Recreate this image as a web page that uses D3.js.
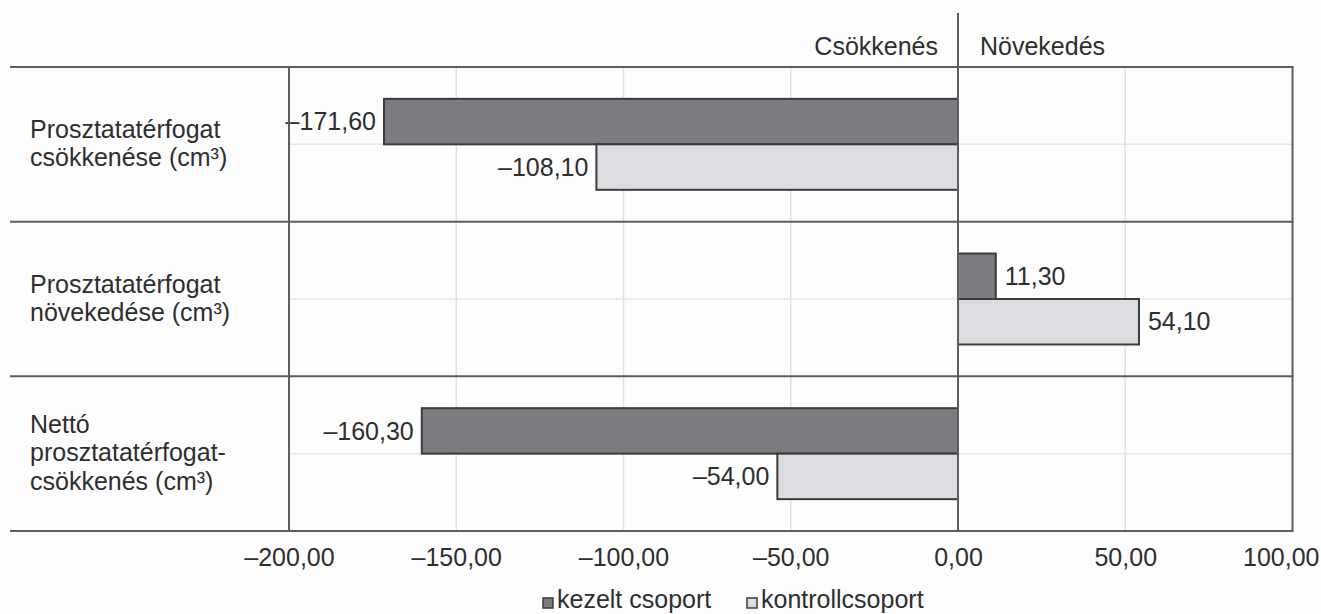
<!DOCTYPE html>
<html>
<head>
<meta charset="utf-8">
<script src="https://cdn.jsdelivr.net/npm/d3@7/dist/d3.min.js"></script>
<style>
  html, body { margin: 0; padding: 0; background: #fdfdfd; }
  svg { display: block; font-family: "Liberation Sans", Arial, sans-serif; }
</style>
</head>
<body>
<svg id="chart" width="1321" height="614"></svg>
<script>
// Prostate volume change, treated vs control group
const categories = ["csokk", "nov", "netto"];
const categoryLines = [
  ["Prosztatatérfogat", "csökkenése (cm³)"],
  ["Prosztatatérfogat", "növekedése (cm³)"],
  ["Nettó", "prosztatatérfogat-", "csökkenés (cm³)"]
];
const seriesNames = ["kezelt csoport", "kontrollcsoport"];
const kezelt = [-171.6, 11.3, -160.3];
const kontroll = [-108.1, 54.1, -54.0];
const tickValues = [-200, -150, -100, -50, 0, 50, 100];
const headerLeft = "Csökkenés";
const headerRight = "Növekedés";

const fills = ["#7b7c7f", "#dcdde0"];
const fontSize = 25;
const textColor = "#2e2e2e";

const svg = d3.select("#chart");

const x = d3.scaleLinear().domain([-200, 100]).range([289, 1292.5]);
const y = d3.scaleBand().domain(categories).range([67, 531]).padding(0);
const ySub = d3.scaleBand().domain(seriesNames).range([0, y.bandwidth()])
  .paddingInner(0).paddingOuter(0.7);

const fmt = v => {
  const s = d3.format(".2f")(Math.abs(v)).replace(".", ",");
  return (v < 0 ? "\u2013" : "") + s;
};

// faint vertical grid
svg.append("g").selectAll("line")
  .data(tickValues.filter(t => t !== -200 && t !== 0 && t !== 100))
  .join("line")
  .attr("x1", d => x(d)).attr("x2", d => x(d))
  .attr("y1", 67).attr("y2", 531)
  .attr("stroke", "#e2e2e2").attr("stroke-width", 1.5);

// faint horizontal line through the middle of each row
svg.append("g").selectAll("line")
  .data(categories)
  .join("line")
  .attr("x1", x(-200)).attr("x2", x(100))
  .attr("y1", d => y(d) + y.bandwidth() / 2).attr("y2", d => y(d) + y.bandwidth() / 2)
  .attr("stroke", "#e6e6e6").attr("stroke-width", 1.5);

// bars with value labels
const rows = categories.map((c, i) => ({ c, vals: [kezelt[i], kontroll[i]] }));
const barG = svg.append("g");
rows.forEach(r => {
  r.vals.forEach((v, j) => {
    const yy = y(r.c) + ySub(seriesNames[j]);
    barG.append("rect")
      .attr("x", x(Math.min(0, v)))
      .attr("y", yy)
      .attr("width", Math.abs(x(v) - x(0)))
      .attr("height", ySub.bandwidth())
      .attr("fill", fills[j])
      .attr("stroke", "#3c3c3c")
      .attr("stroke-width", 2);
    barG.append("text")
      .attr("x", v < 0 ? x(v) - 8 : x(v) + 9)
      .attr("y", yy + ySub.bandwidth() / 2)
      .attr("dy", "0.35em")
      .attr("text-anchor", v < 0 ? "end" : "start")
      .attr("font-size", fontSize)
      .attr("fill", textColor)
      .text(fmt(v));
  });
});

// dark row separators
svg.append("g").selectAll("line")
  .data([67, 221.7, 376.3, 531])
  .join("line")
  .attr("x1", 10).attr("x2", x(100) + 1)
  .attr("y1", d => d).attr("y2", d => d)
  .attr("stroke", "#5e5e5e").attr("stroke-width", 2);

// dark verticals: left edge, zero line, right edge
svg.append("line").attr("x1", x(-200)).attr("x2", x(-200)).attr("y1", 67).attr("y2", 531)
  .attr("stroke", "#5e5e5e").attr("stroke-width", 2);
svg.append("line").attr("x1", x(100)).attr("x2", x(100)).attr("y1", 67).attr("y2", 531)
  .attr("stroke", "#5e5e5e").attr("stroke-width", 2);
svg.append("line").attr("x1", x(0)).attr("x2", x(0)).attr("y1", 13).attr("y2", 531)
  .attr("stroke", "#5e5e5e").attr("stroke-width", 2);

// header
svg.append("text").attr("x", x(0) - 20).attr("y", 55).attr("text-anchor", "end")
  .attr("font-size", fontSize).attr("fill", textColor).text(headerLeft);
svg.append("text").attr("x", x(0) + 22).attr("y", 55).attr("text-anchor", "start")
  .attr("font-size", fontSize).attr("fill", textColor).text(headerRight);

// x axis labels
const axis = d3.axisBottom(x).tickValues(tickValues).tickSize(0).tickPadding(0)
  .tickFormat(fmt);
const axG = svg.append("g").attr("transform", "translate(0,548)").call(axis);
axG.select(".domain").remove();
axG.selectAll("text").attr("font-size", fontSize).attr("fill", textColor)
  .attr("font-family", "Liberation Sans, Arial, sans-serif");
// keep the last label inside the right edge
axG.selectAll(".tick").filter(d => d === 100).select("text")
  .attr("text-anchor", "end").attr("x", 1319 - x(100));

// category labels
categories.forEach((c, i) => {
  const lines = categoryLines[i];
  const lh = 28.5;
  const cy = y(c) + y.bandwidth() / 2 - 1;
  const t = svg.append("text").attr("font-size", fontSize).attr("fill", textColor);
  lines.forEach((ln, k) => {
    t.append("tspan").attr("x", 30)
      .attr("y", cy + (k - (lines.length - 1) / 2) * lh)
      .attr("dy", "0.35em")
      .text(ln);
  });
});

// legend
const legendItems = [
  { name: seriesNames[0], fill: fills[0], x: 543 },
  { name: seriesNames[1], fill: fills[1], x: 747 }
];
const lg = svg.append("g");
legendItems.forEach(it => {
  lg.append("rect").attr("x", it.x).attr("y", 598).attr("width", 10).attr("height", 10)
    .attr("fill", it.fill).attr("stroke", "#3c3c3c").attr("stroke-width", 1.5);
  lg.append("text").attr("x", it.x + 14).attr("y", 608)
    .attr("font-size", fontSize).attr("fill", textColor).text(it.name);
});
</script>
</body>
</html>
